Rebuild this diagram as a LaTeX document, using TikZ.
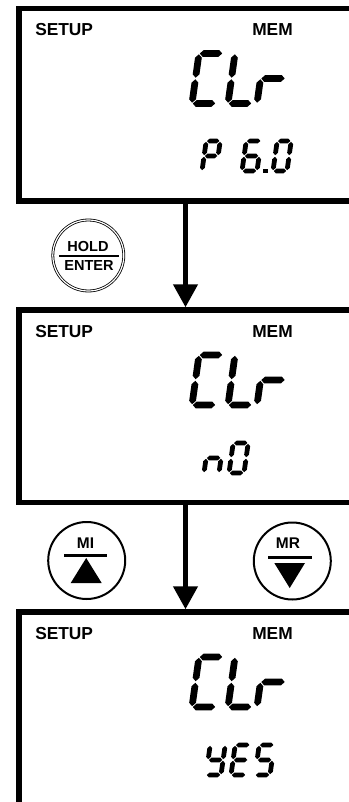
\documentclass[tikz,border=0pt]{standalone}
\usepackage{fontspec}
\setmainfont{Liberation Sans}
\usetikzlibrary{arrows.meta}

% seven-segment helpers (local px coordinates, origin = bottom-left segment centre)
\newcommand\hsg[3]{\fill (#1+\sgG,#3) -- (#1+\sgG+\sgT,#3-\sgT) -- (#2-\sgG-\sgT,#3-\sgT) -- (#2-\sgG,#3) -- (#2-\sgG-\sgT,#3+\sgT) -- (#1+\sgG+\sgT,#3+\sgT) -- cycle;}
\newcommand\vsg[3]{\fill (#1,#2-\sgG) -- (#1+\sgT,#2-\sgG-\sgT) -- (#1+\sgT,#3+\sgG+\sgT) -- (#1,#3+\sgG) -- (#1-\sgT,#3+\sgG+\sgT) -- (#1-\sgT,#2-\sgG-\sgT) -- cycle;}
\newcommand\sgXa{\hsg{0}{\sgW}{-\sgH}}
\newcommand\sgXb{\vsg{\sgW}{-\sgH/2}{-\sgH}}
\newcommand\sgXc{\vsg{\sgW}{0}{-\sgH/2}}
\newcommand\sgXd{\hsg{0}{\sgW}{0}}
\newcommand\sgXe{\vsg{0}{0}{-\sgH/2}}
\newcommand\sgXf{\vsg{0}{-\sgH/2}{-\sgH}}
\newcommand\sgXg{\hsg{0}{\sgW}{-\sgH/2}}
\newcommand\segdigit[6]{%
  \begin{scope}[shift={(#1,#2)},xslant=0.14]
    \def\sgW{#3}\def\sgH{#4}\def\sgT{#5}\def\sgG{0.8}%
    \foreach \s in {#6}{\csname sgX\s\endcsname}%
  \end{scope}}
\newcommand\bigclr[1]{%
  \segdigit{192}{#1+95}{24}{50}{3.4}{a,f,e,d}%
  \segdigit{228}{#1+95}{24}{50}{3.4}{f,e,d}%
  \segdigit{257}{#1+95}{25}{50}{3.4}{e,g}}

\begin{document}
\begin{tikzpicture}[x=0.75pt,y=-0.75pt,
  lcd/.style={draw, line width=4.1pt, rectangle, anchor=north west, inner sep=0pt, minimum width=270.75pt},
  flow/.style={line width=3.4pt, -{Triangle[length=17.25pt,width=18pt]}},
  lbl/.style={font=\fontsize{13}{13}\selectfont\bfseries, inner sep=0pt, anchor=base west},
  keytxt/.style={font=\fontsize{10.9}{11}\selectfont\bfseries, inner sep=0pt, anchor=base},
  mtxt/.style={font=\fontsize{11.6}{12}\selectfont\bfseries, inner sep=0pt, anchor=base},
  keyring/.style={circle, draw, inner sep=0pt, line width=1.5pt, minimum size=57.75pt}
]
\useasboundingbox (0,0) rectangle (349,802);
\clip (0,0) rectangle (349,802);

% screens
\node[lcd, minimum height=144.375pt] (d1) at (16.25,5.75) {};
\node[lcd, minimum height=144.375pt] (d2) at (16.25,307.25) {};
\node[lcd, minimum height=163.5pt] (d3) at (16.25,609.25) {};

% headers
\node[lbl] (su1) at (35,36) {SETUP};
\node[lbl] (me1) at (252,36) {MEM};
\node[lbl] (su2) at (35,337.5) {SETUP};
\node[lbl] (me2) at (252,337.5) {MEM};
\node[lbl] (su3) at (35,639.5) {SETUP};
\node[lbl] (me3) at (252,639.5) {MEM};

% big CLr
\bigclr{8.5}
\bigclr{310}
\bigclr{612}

% P 6.0
\segdigit{202}{8.5+162.5}{14}{30}{2.4}{a,b,f,g,e}
\segdigit{242}{8.5+162.5}{15}{30}{2.4}{a,f,g,e,d,c}
\fill (263,8.5+160.5) rectangle (267.5,8.5+165);
\segdigit{273}{8.5+162.5}{14}{30}{2.4}{a,b,c,d,e,f}

% n0
\segdigit{204}{310+163}{15}{30}{2.4}{c,e,g}
\segdigit{229}{310+163}{15}{30}{2.4}{a,b,c,d,e,f}

% YES
\segdigit{206}{612+163}{15}{30}{2.4}{f,b,g,c,d}
\segdigit{231}{612+163}{15}{30}{2.4}{a,f,g,e,d}
\segdigit{255}{612+163}{15}{30}{2.4}{a,f,g,c,d}

% connectors
\coordinate (ax) at (185.5,0);
\draw[flow] (d1.south -| ax) -- (d2.north -| ax);
\draw[flow] (d2.south -| ax) -- (d3.north -| ax);

% HOLD / ENTER key
\node[circle, draw, inner sep=0pt, line width=0.6pt, double, double distance=0.9pt, minimum size=53.25pt] (hold) at (88.3,255.5) {};
\node[keytxt] (holdt) at (88,252) {HOLD};
\node[keytxt] (entt) at (89,270) {ENTER};
\draw[line width=1.5pt] (59,255.5) -- (119,255.5);

% MI key
\node[keyring] (mi) at (86.7,560.5) {};
\node[mtxt] (mit) at (85.5,548) {MI};
\draw[line width=1.7pt] (64,555.5) -- (107,555.5);
\fill (86.2,558) -- (70.7,583) -- (101.7,583) -- cycle;

% MR key
\node[keyring] (mr) at (292.3,561) {};
\node[mtxt] (mrt) at (288,548) {MR};
\draw[line width=1.7pt] (268,557.5) -- (311.7,557.5);
\fill (274.3,563) -- (305,563) -- (289.7,588) -- cycle;
\end{tikzpicture}
\end{document}
